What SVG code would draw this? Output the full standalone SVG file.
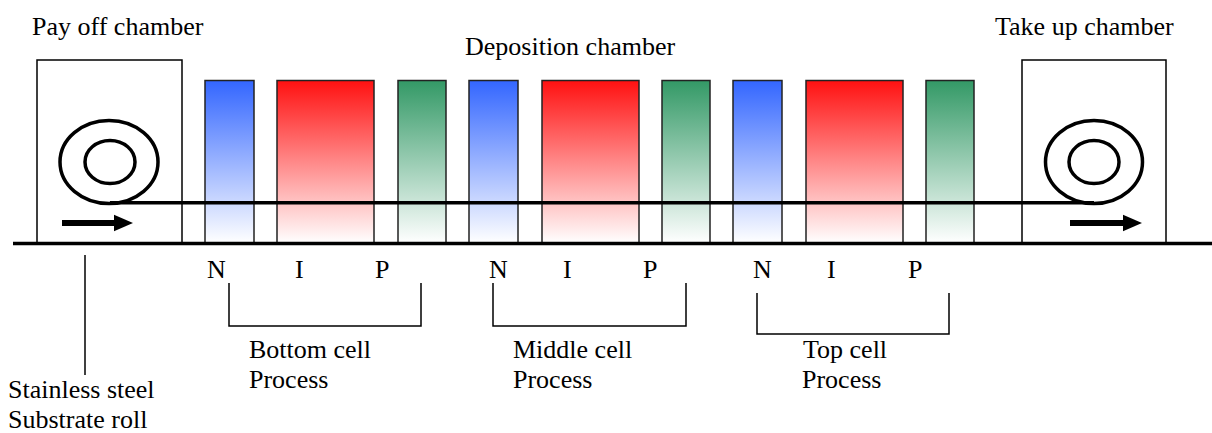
<svg xmlns="http://www.w3.org/2000/svg" width="1212" height="433" viewBox="0 0 1212 433">
<style>
text { font-family: "Liberation Serif", "Times New Roman", serif; font-size: 26px; fill: #000; }
.chamber { fill: #fff; stroke: #000; stroke-width: 1.5; }
.cell { stroke: #222; stroke-width: 1.5; }
.roll { fill: none; stroke: #000; stroke-width: 3.5; }
.thick { stroke: #000; stroke-width: 3.5; fill: none; }
.thin { stroke: #000; stroke-width: 1.5; fill: none; }
</style>
<defs>
<linearGradient id="gBlue" x1="0" y1="0" x2="0" y2="1">
<stop offset="0" stop-color="#3366FF"/><stop offset="1" stop-color="#FFFFFF"/>
</linearGradient>
<linearGradient id="gRed" x1="0" y1="0" x2="0" y2="1">
<stop offset="0" stop-color="#FF1111"/><stop offset="1" stop-color="#FFFFFF"/>
</linearGradient>
<linearGradient id="gGreen" x1="0" y1="0" x2="0" y2="1">
<stop offset="0" stop-color="#339966"/><stop offset="1" stop-color="#FFFFFF"/>
</linearGradient>
</defs>
<rect width="1212" height="433" fill="#fff"/>

<g id="payoff-chamber">
<rect class="chamber" x="37" y="60" width="145" height="183"/>
<ellipse class="roll" cx="109" cy="162" rx="49" ry="41.5"/>
<ellipse class="roll" cx="110" cy="162" rx="25" ry="21.5"/>
<line x1="62" y1="223" x2="118" y2="223" stroke="#000" stroke-width="6"/>
<polygon points="114,214.7 133,223 114,231.3" fill="#000"/>
<text x="32" y="35">Pay off chamber</text>
</g>

<g id="takeup-chamber">
<rect class="chamber" x="1022" y="60" width="144" height="183"/>
<ellipse class="roll" cx="1094" cy="162" rx="48.5" ry="41.5"/>
<ellipse class="roll" cx="1094" cy="162" rx="25" ry="21.5"/>
<line x1="1070" y1="223" x2="1127" y2="223" stroke="#000" stroke-width="6"/>
<polygon points="1123,214.7 1142,223 1123,231.3" fill="#000"/>
<text x="995" y="35">Take up chamber</text>
</g>

<g id="deposition-chamber">
<text x="465" y="55">Deposition chamber</text>
<rect class="cell" x="205" y="80.5" width="49" height="162.5" fill="url(#gBlue)"/>
<rect class="cell" x="277" y="80.5" width="97" height="162.5" fill="url(#gRed)"/>
<rect class="cell" x="398" y="80.5" width="48" height="162.5" fill="url(#gGreen)"/>
<rect class="cell" x="469" y="80.5" width="49" height="162.5" fill="url(#gBlue)"/>
<rect class="cell" x="542" y="80.5" width="97" height="162.5" fill="url(#gRed)"/>
<rect class="cell" x="662" y="80.5" width="48" height="162.5" fill="url(#gGreen)"/>
<rect class="cell" x="733" y="80.5" width="49" height="162.5" fill="url(#gBlue)"/>
<rect class="cell" x="806" y="80.5" width="97" height="162.5" fill="url(#gRed)"/>
<rect class="cell" x="926" y="80.5" width="48" height="162.5" fill="url(#gGreen)"/>
</g>

<g id="substrate">
<line class="thick" x1="110" y1="202.7" x2="1094" y2="202.7"/>
<line class="thick" x1="13" y1="243.5" x2="1212" y2="243.5"/>
</g>

<g id="bottom-cell">
<text x="207" y="278">N</text>
<text x="295" y="278">I</text>
<text x="375" y="278">P</text>
<text x="249" y="358">Bottom cell</text>
<text x="249" y="388">Process</text>
</g>

<g id="middle-cell">
<text x="489" y="278">N</text>
<text x="563" y="278">I</text>
<text x="643" y="278">P</text>
<text x="513" y="358">Middle cell</text>
<text x="513" y="388">Process</text>
</g>

<g id="top-cell">
<text x="753" y="278">N</text>
<text x="827" y="278">I</text>
<text x="908" y="278">P</text>
<text x="803" y="358">Top cell</text>
<text x="802" y="388">Process</text>
</g>

<g id="substrate-label">
<text x="8" y="398">Stainless steel</text>
<text x="8" y="428">Substrate roll</text>
</g>

<g id="connectors">
<polyline class="thin" points="229,283 229,326 421,326 421,283"/>
<polyline class="thin" points="493,283 493,326 686,326 686,283"/>
<polyline class="thin" points="757,293 757,334 949,334 949,293"/>
<line class="thin" x1="85" y1="255" x2="85" y2="375"/>
</g>
</svg>
